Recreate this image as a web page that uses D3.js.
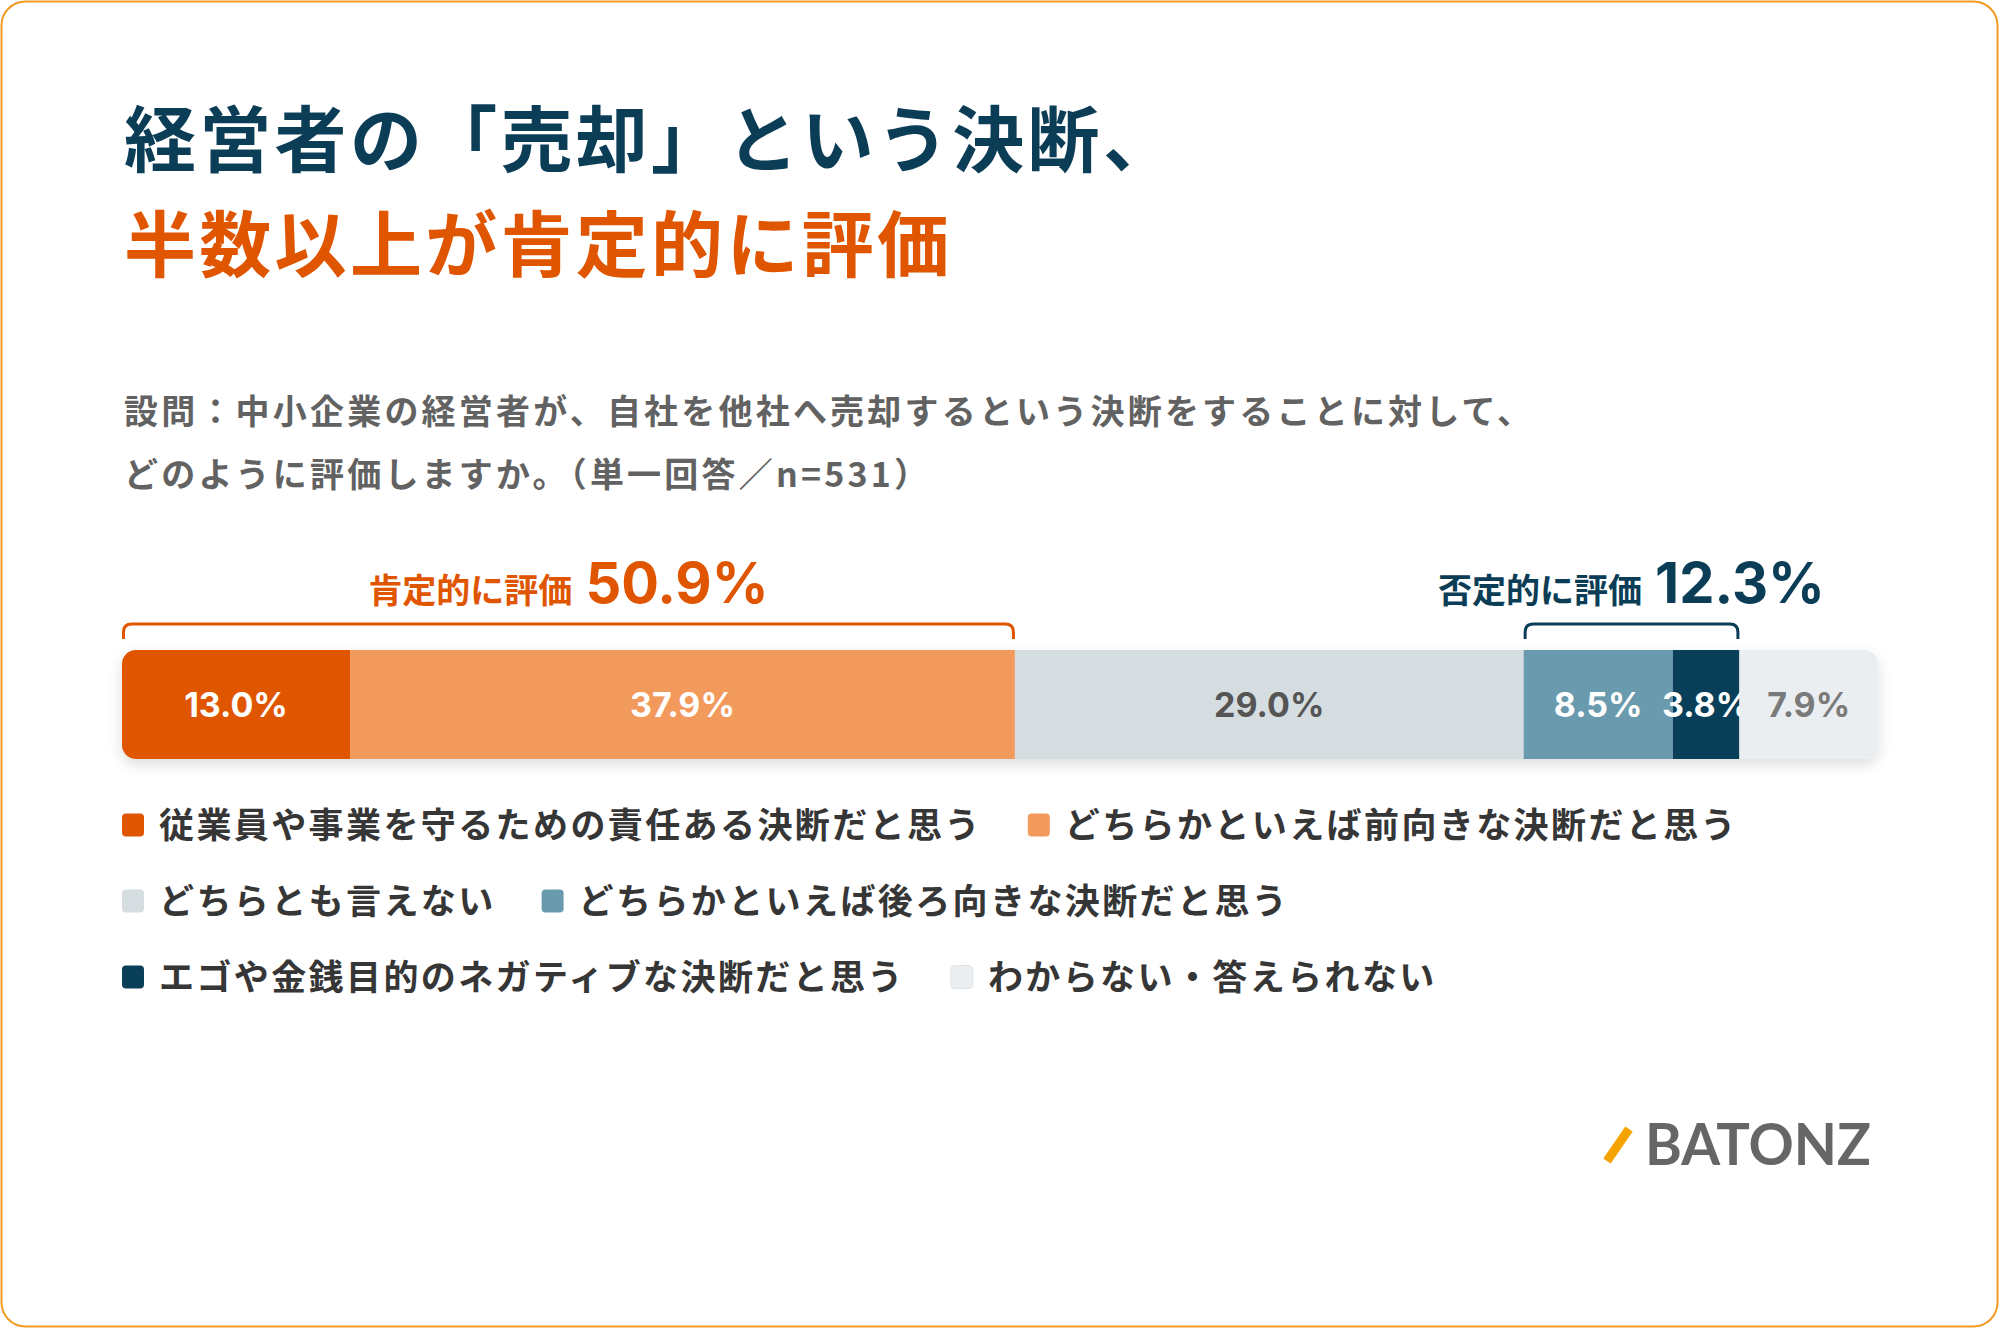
<!DOCTYPE html>
<html><head><meta charset="utf-8">
<script src="https://cdn.jsdelivr.net/npm/d3@7"></script>
<style>html,body{margin:0;padding:0;background:#fff;} svg{display:block}</style>
</head><body>
<svg id="chart" width="1999" height="1328"></svg>
<script>
// ---- data ----
const titleLines = ["経営者の「売却」という決断、", "半数以上が肯定的に評価"];
const questionLines = ["設問：中小企業の経営者が、自社を他社へ売却するという決断をすることに対して、", "どのように評価しますか。（単一回答／n=531）"];
const categories = [
  "従業員や事業を守るための責任ある決断だと思う",
  "どちらかといえば前向きな決断だと思う",
  "どちらとも言えない",
  "どちらかといえば後ろ向きな決断だと思う",
  "エゴや金銭目的のネガティブな決断だと思う",
  "わからない・答えられない"
];
const values = [13.0, 37.9, 29.0, 8.5, 3.8, 7.9];
const positiveGroup = [0, 1];
const negativeGroup = [3, 4];
const positiveLabel = "肯定的に評価";
const negativeLabel = "否定的に評価";
const logoText = "BATONZ";

// ---- styles ----
const palette = ["#E05500", "#F29A5C", "#D5DDE1", "#6A9AAE", "#0A3F5A", "#EBEEF1"];
const labelPalette = ["#ffffff", "#ffffff", "#555555", "#ffffff", "#ffffff", "#7a7a7a"];
const NAVY = "#0B3D57", ORANGE = "#E05500";
const CJK = "'Noto Sans CJK JP', 'Noto Sans', sans-serif";
const NUM = "Inter, 'Noto Sans', sans-serif";

const W = 1999, H = 1328;
const svg = d3.select("#chart");

svg.append("rect").attr("x", 1.5).attr("y", 1.5).attr("width", W - 3).attr("height", H - 3)
  .attr("rx", 24).attr("fill", "#fff").attr("stroke", "#F39A22").attr("stroke-width", 2);

const defs = svg.append("defs");
const f = defs.append("filter").attr("id", "shadow").attr("x", "-5%").attr("y", "-30%").attr("width", "110%").attr("height", "170%");
f.append("feDropShadow").attr("dx", 0).attr("dy", 6).attr("stdDeviation", 7).attr("flood-color", "#000").attr("flood-opacity", 0.13);

// ---- title ----
svg.selectAll("text.title").data(titleLines).join("text").attr("class", "title")
  .attr("x", 124).attr("y", (d, i) => [166, 271][i])
  .style("font-family", CJK).style("font-size", "72px").style("font-weight", 700)
  .style("letter-spacing", "3.3px")
  .attr("fill", (d, i) => i === 0 ? NAVY : ORANGE)
  .text(d => d);

svg.selectAll("text.q").data(questionLines).join("text").attr("class", "q")
  .attr("x", 124).attr("y", (d, i) => [424, 487][i])
  .style("font-family", CJK).style("font-size", "34px").style("font-weight", 700)
  .style("letter-spacing", "3.2px").attr("fill", "#626262")
  .text(d => d);

// ---- bar ----
const total = d3.sum(values);
const x = d3.scaleLinear().domain([0, total]).range([122, 1878]);
const cum = d3.cumsum(values);
const segs = values.map((v, i) => ({ v, i, start: cum[i] - v, end: cum[i] }));
const barTop = 650, barH = 109, barR = 14;

defs.append("clipPath").attr("id", "barclip").append("rect")
  .attr("x", x(0)).attr("y", barTop).attr("width", x(total) - x(0)).attr("height", barH).attr("rx", barR);

svg.append("rect").attr("x", x(0)).attr("y", barTop).attr("width", x(total) - x(0)).attr("height", barH)
  .attr("rx", barR).attr("fill", "#fff").attr("filter", "url(#shadow)");

const barG = svg.append("g").attr("clip-path", "url(#barclip)");
const sg = barG.selectAll("g.seg").data(segs).join("g").attr("class", "seg");
sg.append("rect")
  .attr("x", d => x(d.start)).attr("y", barTop)
  .attr("width", d => x(d.end) - x(d.start)).attr("height", barH)
  .attr("fill", d => palette[d.i]);
sg.append("text")
  .attr("x", d => (x(d.start) + x(d.end)) / 2)
  .attr("y", barTop + barH / 2 + 12.4)
  .attr("text-anchor", "middle")
  .style("font-family", NUM).style("font-size", "34px").style("font-weight", 700)
  .attr("fill", d => labelPalette[d.i])
  .text(d => d.v.toFixed(1) + "%");

// ---- brackets & annotations ----
function bracket(idx, color, label) {
  const s = segs[idx[0]].start, e = segs[idx[idx.length - 1]].end;
  const x0 = x(s) + 1.5, x1 = x(e) - 1.5, yb = 624, yd = 639, r = 8;
  svg.append("path")
    .attr("d", `M${x0},${yd} V${yb + r} Q${x0},${yb} ${x0 + r},${yb} H${x1 - r} Q${x1},${yb} ${x1},${yb + r} V${yd}`)
    .attr("fill", "none").attr("stroke", color).attr("stroke-width", 3);
  const sum = d3.sum(idx, k => values[k]);
  const t = svg.append("text").attr("x", (x0 + x1) / 2).attr("y", 603).attr("text-anchor", "middle").attr("fill", color);
  t.append("tspan").style("font-family", CJK).style("font-size", "34px").style("font-weight", 700).text(label);
  t.append("tspan").attr("dx", 13).style("font-family", NUM).style("font-size", "56px").style("font-weight", 700).text(sum.toFixed(1) + "%");
}
bracket(positiveGroup, ORANGE, positiveLabel);
bracket(negativeGroup, NAVY, negativeLabel);

// ---- legend ----
const legendX = 122, legendMax = 1878, rowY = [825, 901, 977], gap = 46;
const lg = svg.append("g");
const items = lg.selectAll("g.li").data(categories).join("g").attr("class", "li");
items.append("rect").attr("x", 0).attr("y", -11.5).attr("width", 22).attr("height", 23).attr("rx", 4)
  .attr("fill", (d, i) => palette[i])
  .attr("stroke", (d, i) => i === 5 ? "#dfe4e8" : "none").attr("stroke-width", 1);
items.append("text").attr("x", 37).attr("y", 13)
  .style("font-family", CJK).style("font-size", "35px").style("font-weight", 700)
  .style("letter-spacing", "2.4px").attr("fill", "#363636")
  .text(d => d);
let cx = legendX, row = 0;
items.each(function (d, i) {
  const w = 37 + d3.select(this).select("text").node().getComputedTextLength();
  if (cx > legendX && cx + w > legendMax) { row++; cx = legendX; }
  d3.select(this).attr("transform", `translate(${cx},${rowY[row]})`);
  cx += w + gap;
});

// ---- logo ----
svg.append("line").attr("x1", 1607).attr("y1", 1161).attr("x2", 1629).attr("y2", 1129)
  .attr("stroke", "#F5A300").attr("stroke-width", 9);
svg.append("text").attr("x", 1645).attr("y", 1165)
  .attr("textLength", 226).attr("lengthAdjust", "spacingAndGlyphs")
  .style("font-family", "Lato, 'Noto Sans', sans-serif").style("font-size", "57px").style("font-weight", 700)
  .attr("fill", "#666").text(logoText);
</script>
</body></html>
